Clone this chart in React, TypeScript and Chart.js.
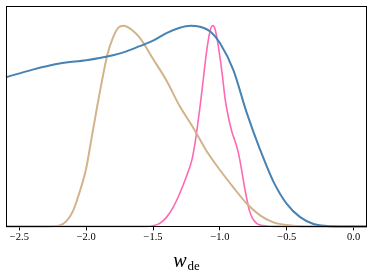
import React, { useEffect, useRef } from "react";
import { Chart, registerables } from "chart.js";

Chart.register(...registerables);

// w_de grid points and normalised posterior densities
const blueW = [-2.6, -2.4, -2.2, -2.0, -1.9, -1.8, -1.7, -1.6, -1.5, -1.4, -1.3, -1.22, -1.15, -1.07, -1.0, -0.9, -0.8, -0.7, -0.6, -0.5, -0.4, -0.3, -0.2, -0.1, 0.1];
const blueV = [0.743, 0.781, 0.811, 0.828, 0.839, 0.853, 0.872, 0.898, 0.925, 0.963, 0.99, 1.0, 0.995, 0.97, 0.914, 0.78, 0.567, 0.383, 0.223, 0.112, 0.046, 0.012, 0.002, 0.0, 0.0];

const tanW = [-2.6, -2.3, -2.2, -2.15, -2.1, -2.05, -2.0, -1.96, -1.92, -1.875, -1.84, -1.8, -1.76, -1.72, -1.66, -1.6, -1.5, -1.4, -1.3, -1.2, -1.1, -1.0, -0.9, -0.8, -0.7, -0.6, -0.5, -0.4, -0.3, 0.1];
const tanV = [0, 0, 0.005, 0.025, 0.075, 0.17, 0.29, 0.44, 0.59, 0.75, 0.86, 0.94, 0.99, 1.0, 0.98, 0.94, 0.834, 0.727, 0.598, 0.492, 0.376, 0.281, 0.195, 0.114, 0.055, 0.02, 0.007, 0.001, 0, 0];

const pinkW = [-2.6, -1.55, -1.5, -1.45, -1.4, -1.35, -1.3, -1.25, -1.21, -1.19, -1.17, -1.15, -1.125, -1.1, -1.075, -1.055, -1.035, -1.01, -0.985, -0.96, -0.935, -0.91, -0.88, -0.86, -0.84, -0.82, -0.8, -0.78, -0.76, -0.74, -0.72, -0.7, -0.65, -0.6, 0.1];
const pinkV = [0, 0, 0.003, 0.015, 0.045, 0.095, 0.165, 0.25, 0.33, 0.4, 0.49, 0.59, 0.73, 0.87, 0.97, 1.0, 0.98, 0.89, 0.77, 0.63, 0.54, 0.47, 0.41, 0.36, 0.29, 0.21, 0.14, 0.08, 0.045, 0.025, 0.013, 0.007, 0.002, 0, 0];

const xTicks = [-2.5, -2.0, -1.5, -1.0, -0.5, 0.0];

const toPts = (w: number[], v: number[]) => w.map((x, i) => ({ x, y: v[i] }));

const framePlugin = {
  id: "frameAndLabel",
  afterDraw(chart: any) {
    const { ctx, chartArea } = chart;
    const { left, right, top, bottom } = chartArea;
    ctx.save();
    ctx.strokeStyle = "#000";
    ctx.lineWidth = 1;
    ctx.strokeRect(Math.round(left) + 0.5, Math.round(top) + 0.5, Math.round(right - left) - 1, Math.round(bottom - top));
    // axis label w_de
    const cx = (left + right) / 2;
    const base = 267;
    ctx.fillStyle = "#000";
    ctx.textBaseline = "alphabetic";
    ctx.font = "italic 20px 'Liberation Serif', serif";
    const wW = ctx.measureText("w").width;
    ctx.font = "13px 'Liberation Serif', serif";
    const dW = ctx.measureText("de").width;
    const start = cx - (wW + dW + 1) / 2;
    ctx.font = "italic 20px 'Liberation Serif', serif";
    ctx.textAlign = "left";
    ctx.fillText("w", start, base);
    ctx.font = "13px 'Liberation Serif', serif";
    ctx.fillText("de", start + wW + 1, base + 3);
    ctx.restore();
  },
};

export default function App() {
  const ref = useRef<HTMLCanvasElement>(null);
  useEffect(() => {
    document.body.style.margin = "0";
    const chart = new Chart(ref.current!, {
      type: "line",
      data: {
        datasets: [
          { data: toPts(blueW, blueV), borderColor: "#4682b4", borderWidth: 2, pointRadius: 0, cubicInterpolationMode: "monotone", fill: false, clip: 3 } as any,
          { data: toPts(tanW, tanV), borderColor: "#d2b48c", borderWidth: 2, pointRadius: 0, cubicInterpolationMode: "monotone", fill: false, clip: 3 } as any,
          { data: toPts(pinkW, pinkV), borderColor: "#ff69b4", borderWidth: 1.6, pointRadius: 0, cubicInterpolationMode: "monotone", fill: false, clip: 3 } as any,
        ],
      },
      options: {
        animation: false,
        responsive: false,
        devicePixelRatio: 1,
        layout: { padding: { left: 6, right: 6, top: 6, bottom: 30 } },
        plugins: { legend: { display: false }, tooltip: { enabled: false } },
        scales: {
          x: {
            type: "linear",
            min: -2.6,
            max: 0.1,
            afterBuildTicks: (s: any) => {
              s.ticks = xTicks.map((v) => ({ value: v }));
            },
            ticks: {
              color: "#000",
              font: { family: "'Liberation Serif', serif", size: 10.5 },
              padding: 1,
              maxRotation: 0,
              autoSkip: false,
              callback: (v: any) => {
                const n = Number(v);
                const s = Math.abs(n).toFixed(1);
                return n < 0 ? "\u2212" + s : s;
              },
            },
            grid: { display: true, drawOnChartArea: false, drawTicks: true, tickLength: 4, color: "#000" },
            border: { display: false },
          },
          y: { display: false, min: 0, max: 1.098 },
        },
      },
      plugins: [framePlugin],
    } as any);
    return () => chart.destroy();
  }, []);
  return (
    <div style={{ width: 373, height: 275 }}>
      <canvas ref={ref} width={373} height={275} />
    </div>
  );
}
